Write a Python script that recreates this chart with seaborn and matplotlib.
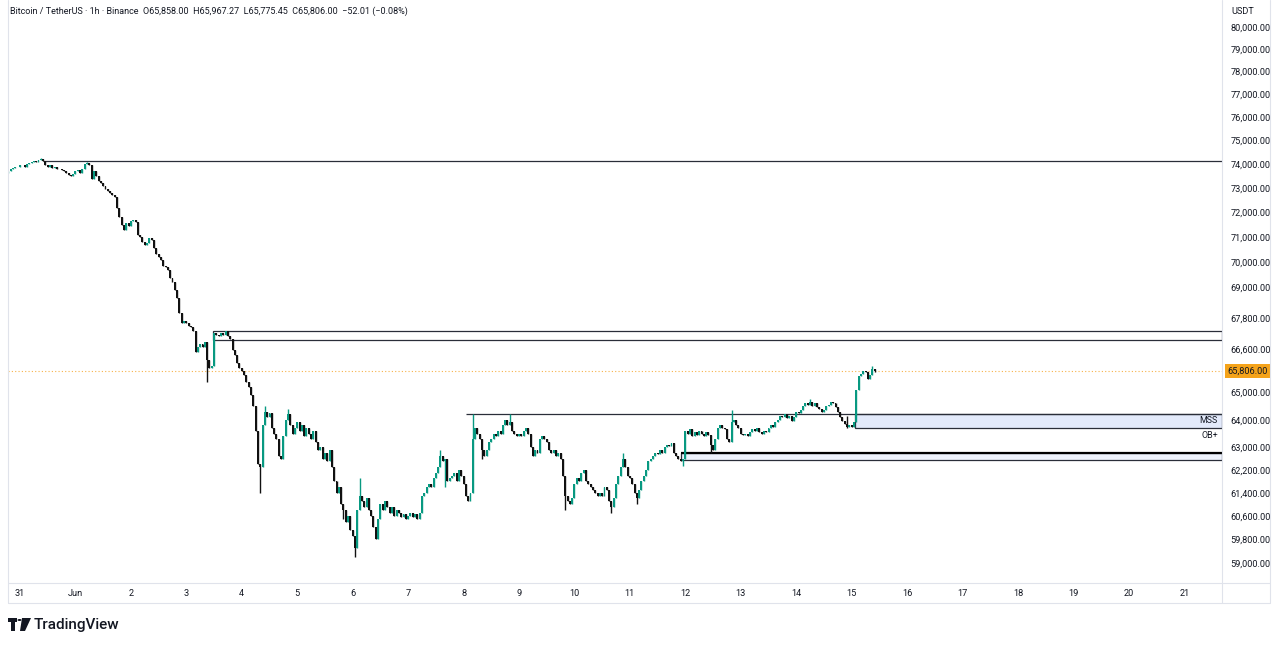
import numpy as np
import matplotlib
matplotlib.use("Agg")
import matplotlib.pyplot as plt
import seaborn as sns
from matplotlib.ticker import FixedLocator, FuncFormatter, NullLocator
from matplotlib.lines import Line2D
from matplotlib.patches import Rectangle, Polygon, Circle
import matplotlib.transforms as mtransforms

# ---------------- data (hourly closes, BTC/USDT 1h, first candle May 30 19:00) ----------------
may30 = [73700, 73800, 73850, 73900, 73880]
may31 = [73950, 73980, 73900, 74020, 74050, 74100, 74120, 74080, 74160, 74200, 74150, 73980,
         73900, 73950, 73850, 73880, 73800, 73820, 73750, 73700, 73650, 73560, 73500, 73580]
jun01 = [73700, 73750, 73650, 73800, 74000, 74050, 73950, 73400, 73700, 73500, 73300, 73200,
         73100, 72950, 72900, 72800, 72700, 72650, 72200, 71800, 71500, 71300, 71550, 71450]
jun02 = [71650, 71700, 71600, 71100, 71000, 70800, 70700, 70750, 70950, 70900, 70550, 70300,
         70200, 70100, 69850, 69800, 69700, 69350, 69200, 68900, 68600, 68000, 67600, 67700]
jun03 = [67600, 67500, 67450, 67300, 66500, 66700, 66800, 66700, 66900, 66200, 65900, 66000,
         67250, 67150, 67100, 67250, 67150, 67300, 67100, 67000, 66600, 66400, 66100, 65900]
jun04 = [65800, 65650, 65400, 65200, 64900, 64500, 63600, 62400, 62300, 63800, 64300, 64100,
         64250, 63700, 63500, 63300, 62700, 62600, 63400, 64000, 64200, 63800, 63500, 63700]
jun05 = [63900, 63600, 63800, 63400, 63700, 63500, 63300, 63600, 63200, 62900, 63000, 62600,
         62800, 62500, 62900, 62300, 61800, 61400, 61600, 61000, 60800, 60400, 60600, 60100]
jun06 = [59900, 59500, 60800, 61300, 61100, 60900, 61200, 60800, 60600, 60200, 59800, 60500,
         61000, 60800, 61100, 60900, 60700, 60900, 60600, 60800, 60700, 60550, 60650, 60500]
jun07 = [60600, 60700, 60550, 60650, 60500, 60700, 61300, 61400, 61600, 61700, 61600, 61900,
         62100, 62300, 62700, 62500, 62600, 61800, 61900, 62000, 62100, 61800, 62200, 62000]
jun08 = [61700, 61300, 61100, 61400, 63300, 63700, 63500, 63300, 62900, 62700, 62900, 63200,
         63300, 63500, 63400, 63600, 63500, 63800, 64000, 63800, 63900, 63600, 63500, 63400]
jun09 = [63500, 63400, 63600, 63700, 63500, 63000, 62700, 62900, 62800, 63300, 63400, 63300,
         63200, 62900, 62800, 62900, 62700, 62800, 62600, 62000, 61300, 61100, 61000, 61200]
jun10 = [61700, 61900, 61800, 62100, 62200, 61800, 61700, 61600, 61500, 61400, 61300, 61400,
         61300, 61600, 61500, 61100, 60900, 61200, 61700, 62000, 62300, 62600, 62300, 62000]
jun11 = [61900, 61700, 61400, 61200, 61500, 61800, 62000, 62200, 62500, 62600, 62700, 62800,
         62750, 62900, 62800, 63000, 63100, 63050, 63150, 62800, 62700, 62600, 62500, 62600]
jun12 = [63600, 63500, 63650, 63400, 63550, 63450, 63600, 63500, 63400, 63550, 63450, 63100,
         62900, 63300, 63700, 63800, 63700, 63650, 63300, 63200, 63900, 64000, 63800, 63700]
jun13 = [63500, 63450, 63500, 63400, 63550, 63650, 63600, 63700, 63550, 63500, 63600, 63550,
         63700, 63800, 63750, 63900, 64000, 64150, 64100, 64200, 64050, 64150, 63950, 64100]
jun14 = [64300, 64250, 64350, 64500, 64600, 64550, 64650, 64500, 64600, 64450, 64400, 64300,
         64350, 64500, 64550, 64650, 64600, 64450, 64300, 64100, 63950, 63850, 63750, 63800]
jun15 = [63750, 63900, 65100, 65600, 65700, 65800, 65750, 65500, 65650, 65858, 65806]
first_open = 73650
first_hour = -5          # hours relative to May 31 00:00

# notable wicks (hour offset -> price)
wick_high = {9: 74250, 29: 74100, 106: 64500, 116: 64400, 147: 61900, 182: 62900,
             196: 64220, 212: 64200, 261: 62800, 308: 64350, 342: 64750, 358: 64150, 369: 65967}
wick_low = {81: 65400, 104: 61400, 140: 60500, 145: 59200, 154: 59800, 184: 61600,
            200: 62600, 236: 60800, 256: 60700, 267: 61000, 287: 62350, 299: 62800,
            358: 63700, 370: 65775}

# drawn levels / zones
top_level = 74140
top_level_start = 10
upper_zone = (66960, 67320)
upper_zone_start = 83.5
mss_level = 64210
mss_start = 193
mss_zone = (63700, 64210)
mss_zone_start = 361.5
ob_zone = (62550, 62800)
ob_zone_start = 286
last_price = 65806

y_ticks = [80000, 79000, 78000, 77000, 76000, 75000, 74000, 73000, 72000, 71000, 70000,
           69000, 67800, 66600, 65000, 64000, 63000, 62200, 61400, 60600, 59800, 59000]
x_labels = ["31", "Jun", "2", "3", "4", "5", "6", "7", "8", "9", "10", "11",
            "12", "13", "14", "15", "16", "17", "18", "19", "20", "21"]
header = ("Bitcoin / TetherUS · 1h · Binance  O65,858.00  H65,967.27  "
          "L65,775.45  C65,806.00  −52.01 (−0.08%)")

# ---------------- build candles ----------------
close = np.array(may30 + may31 + jun01 + jun02 + jun03 + jun04 + jun05 + jun06 + jun07 +
                 jun08 + jun09 + jun10 + jun11 + jun12 + jun13 + jun14 + jun15, dtype=float)
hours = np.arange(first_hour, first_hour + len(close))
open_ = np.concatenate([[first_open], close[:-1]])
high = np.maximum(open_, close)
low = np.minimum(open_, close)
for k, v in wick_high.items():
    i = k - first_hour
    high[i] = max(high[i], v)
for k, v in wick_low.items():
    i = k - first_hour
    low[i] = min(low[i], v)
up = close >= open_

UP = "#089981"
DOWN = "#111111"
TXT = "#131722"
GRID = "#e0e3eb"
FS = 6.6

sns.set_theme(style="white")
plt.rcParams["font.family"] = ["Roboto", "DejaVu Sans"]

W, H = 1280, 645
fig = plt.figure(figsize=(12.8, 6.45), dpi=100)
fig.patch.set_facecolor("white")
ax = fig.add_axes([8 / W, 1 - 583 / H, 1214 / W, 583 / H])
ax.set_facecolor("white")
ax.set_yscale("log")
ax.set_xlim(-5.2, 520.3)
ax.set_ylim(58330, 81237)

# candles
colors = np.where(up, UP, DOWN)
ax.vlines(hours, low, high, colors=colors, linewidth=1.0, zorder=3)
body_bottom = np.minimum(open_, close)
body_h = np.maximum(np.abs(close - open_), 20)
ax.bar(hours, body_h, bottom=body_bottom, width=0.85, color=colors, linewidth=0, zorder=4)

xmax = ax.get_xlim()[1]
LINE = "#2a2e39"
# levels
ax.hlines(top_level, top_level_start, xmax, color=LINE, linewidth=0.9, zorder=2)
ax.add_patch(Rectangle((upper_zone_start, upper_zone[0]), xmax - upper_zone_start,
                       upper_zone[1] - upper_zone[0], facecolor="none",
                       edgecolor=LINE, linewidth=0.9, zorder=2))
ax.hlines(mss_level, mss_start, xmax, color=LINE, linewidth=0.9, zorder=2)
ax.add_patch(Rectangle((mss_zone_start, mss_zone[0]), xmax - mss_zone_start,
                       mss_zone[1] - mss_zone[0], facecolor="#e3eafb",
                       edgecolor=LINE, linewidth=0.9, zorder=1))
ax.add_patch(Rectangle((ob_zone_start, ob_zone[0]), xmax - ob_zone_start,
                       ob_zone[1] - ob_zone[0], facecolor="#eef2fc",
                       edgecolor=LINE, linewidth=0.9, zorder=1))
ax.hlines(ob_zone[1], ob_zone_start, xmax, color="#000000", linewidth=1.6, zorder=2)

# last price dotted line
ax.axhline(last_price, color="#f7b24a", linewidth=0.8, linestyle=(0, (1, 2)), zorder=1)

# zone labels
trans = mtransforms.blended_transform_factory(ax.transAxes, ax.transData)
ax.text(1 - 4 / 1214, np.sqrt(mss_zone[0] * mss_zone[1]), "MSS", transform=trans,
        ha="right", va="center", fontsize=6.4, color=TXT, zorder=5)
ax.text(1 - 4 / 1214, 63430, "OB+", transform=trans,
        ha="right", va="center", fontsize=6.4, color=TXT, zorder=5)

# axes / ticks
ax.yaxis.tick_right()
ax.yaxis.set_major_locator(FixedLocator(y_ticks))
ax.yaxis.set_minor_locator(NullLocator())
ax.yaxis.set_major_formatter(FuncFormatter(lambda v, p: f"{v:,.2f}"))
ax.tick_params(axis="y", length=0, pad=6, labelsize=FS, labelcolor=TXT)
ax.set_xticks(np.arange(0, 24 * len(x_labels), 24))
ax.set_xticklabels(x_labels)
ax.tick_params(axis="x", length=0, pad=4, labelsize=FS, labelcolor=TXT)
for s in ax.spines.values():
    s.set_visible(False)
ax.grid(False)

# price label
ax.text(1 + 5 / 1214, last_price, f"{last_price:,.2f}", transform=trans, ha="left",
        va="center", fontsize=FS, color=TXT, zorder=6, clip_on=False,
        bbox=dict(boxstyle="square,pad=0.25", facecolor="#f5a31a", edgecolor="none"))

# frame lines
def fline(x0, y0, x1, y1):
    fig.add_artist(Line2D([x0 / W, x1 / W], [1 - y0 / H, 1 - y1 / H], color=GRID, lw=0.8))

fline(8, 0, 8, 603)
fline(1222, 0, 1222, 603)
fline(1270, 0, 1270, 603)
fline(8, 583, 1270, 583)
fline(8, 603, 1270, 603)

# header & unit
fig.text(10 / W, 1 - 11 / H, header, fontsize=6.5, color=TXT, va="center", ha="left")
fig.text(1231 / W, 1 - 12 / H, "USDT", fontsize=FS, color=TXT, va="center", ha="left")

# TradingView logo
def fpoly(pts, color="#131722"):
    fig.add_artist(Polygon([(x / W, 1 - y / H) for x, y in pts], closed=True,
                           facecolor=color, edgecolor="none"))

fpoly([(8, 618), (17, 618), (17, 622), (15, 622), (15, 631), (11, 631), (11, 622), (8, 622)])
fig.add_artist(Circle((19.5 / W, 1 - 620 / H), 2 / W, facecolor="#131722",
                      edgecolor="none", transform=fig.transFigure))
fpoly([(22, 618), (31, 618), (25, 631), (20, 631)])
fig.text(34 / W, 1 - 624.5 / H, "TradingView", fontsize=11, fontweight="medium",
         color="#131722", va="center", ha="left")

fig.savefig("out.png", dpi=100, facecolor="white")
